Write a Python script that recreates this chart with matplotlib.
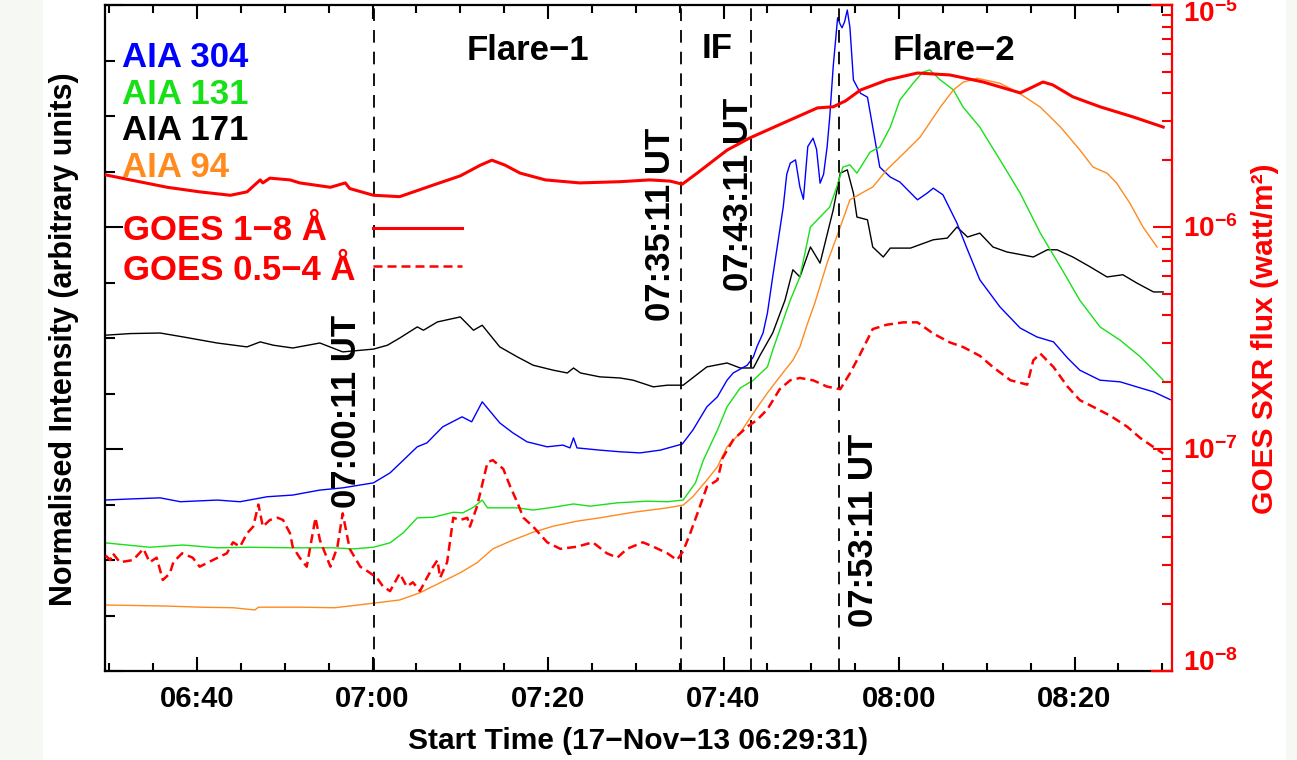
import matplotlib.pyplot as plt
from matplotlib.patches import Rectangle
from matplotlib.ticker import FixedLocator, MultipleLocator, LogLocator, NullFormatter
from matplotlib.transforms import offset_copy

plt.rcParams['font.family'] = ['Liberation Sans', 'DejaVu Sans']
plt.rcParams['font.weight'] = 'bold'
plt.rcParams['mathtext.fontset'] = 'custom'
plt.rcParams['mathtext.rm'] = 'Liberation Sans:bold'
plt.rcParams['mathtext.bf'] = 'Liberation Sans:bold'

# time axis: minutes after 06:00 UT on 17-Nov-2013
t_start, t_end = 29.52, 151.1
tick_minutes = [40, 60, 80, 100, 120, 140]
tick_labels = ['06:40', '07:00', '07:20', '07:40', '08:00', '08:20']

# event markers (minutes after 06:00) and their labels
event_minutes = [60.18, 95.18, 103.18, 113.18]
event_labels = ['07:00:11 UT', '07:35:11 UT', '07:43:11 UT', '07:53:11 UT']

# AIA light curves, normalised and stacked (arbitrary units)
t_171 = [29.5, 32.4, 35.8, 38.4, 42.3, 45.7, 47.2, 48.7, 50.9, 54.0, 56.6, 60.1, 61.7,
         63.1, 65.1, 65.8, 67.4, 70.0, 71.5, 72.5, 74.5, 76.5, 78.3, 80.6, 82.2, 82.9,
         83.7, 85.9, 88.2, 89.7, 92.0, 93.6, 95.4, 98.1, 100.4, 101.9, 103.4, 104.2,
         105.6, 107.0, 107.9, 108.7, 109.9, 111.0, 112.5, 113.3, 114.1, 114.8, 115.2,
         116.4, 117.0, 118.2, 119.0, 121.3, 123.9, 125.5, 126.6, 127.8, 129.2, 130.7,
         132.3, 135.3, 136.9, 138.0, 139.8, 141.8, 143.7, 145.5, 147.1, 149.0, 150.1]
aia_171 = [6.05, 6.08, 6.09, 6.02, 5.91, 5.84, 5.93, 5.87, 5.82, 5.91, 5.75, 5.80, 5.87,
           6.00, 6.20, 6.14, 6.29, 6.38, 6.14, 6.23, 5.84, 5.66, 5.51, 5.42, 5.37, 5.46,
           5.37, 5.30, 5.28, 5.24, 5.12, 5.15, 5.15, 5.48, 5.55, 5.46, 5.46, 5.70,
           6.09, 6.68, 7.23, 7.10, 7.64, 7.35, 8.31, 8.97, 9.03, 8.61, 8.18,
           8.13, 7.64, 7.46, 7.62, 7.62, 7.77, 7.80, 8.00, 7.82, 7.89, 7.64,
           7.55, 7.46, 7.59, 7.59, 7.46, 7.28, 7.10, 7.14, 6.99, 6.83, 6.83]

t_304 = [29.5, 32.4, 35.8, 38.1, 42.3, 44.9, 48.0, 50.9, 54.0, 56.6, 60.1, 62.0, 65.1,
         66.2, 68.0, 70.2, 71.3, 72.5, 74.5, 76.0, 77.6, 79.9, 81.7, 82.5, 82.9, 83.3,
         85.9, 88.2, 90.5, 92.8, 95.3, 96.5, 98.1, 99.3, 100.4, 101.1, 102.7, 103.4,
         103.8, 104.5, 105.0, 105.6, 106.8, 107.2, 107.6, 108.2, 108.7, 109.1, 109.6,
         110.2, 110.6, 111.0, 111.4, 111.8, 112.1, 112.5, 113.0, 113.3, 113.5, 113.8,
         114.1, 114.4, 114.8, 115.6, 116.4, 117.8, 119.0, 120.1,
         122.1, 123.2, 123.9, 125.0, 126.6, 127.8, 129.2, 131.5, 133.8, 135.7, 137.6,
         139.2, 140.6, 142.9, 145.2, 147.5, 149.0, 150.9]
aia_304 = [3.08, 3.10, 3.12, 3.05, 3.08, 3.05, 3.14, 3.17, 3.26, 3.30, 3.39, 3.57, 4.04,
           4.11, 4.40, 4.58, 4.49, 4.85, 4.47, 4.29, 4.13, 4.04, 4.07, 4.02, 4.20, 4.02,
           3.98, 3.95, 3.93, 3.98, 4.09, 4.34, 4.76, 4.94, 5.24, 5.37, 5.51, 5.66,
           5.84, 6.09, 6.45, 7.10, 8.36, 8.95, 9.15, 9.21, 8.72, 8.50, 9.45,
           9.60, 9.40, 8.79, 8.95, 9.44, 9.98, 10.90, 11.77, 11.65, 11.59, 11.70,
           11.91, 11.60, 10.65, 10.41, 10.34, 9.08, 8.90, 8.81,
           8.49, 8.61, 8.70, 8.58, 8.07, 7.59, 7.05, 6.56, 6.18, 6.02, 5.93,
           5.64, 5.42, 5.24, 5.21, 5.10, 5.03, 4.89]

t_131 = [29.5, 34.6, 38.4, 42.3, 46.0, 50.9, 55.5, 57.8, 60.1, 62.0, 63.5, 65.1, 66.9,
         69.2, 70.3, 71.5, 72.5, 73.1, 76.5, 78.3, 80.6, 82.9, 84.8, 87.9, 91.3, 93.6,
         95.4, 96.8, 97.7, 99.3, 100.4, 101.9, 103.4, 105.0, 105.6, 106.8, 107.6,
         108.7, 109.9, 111.0, 112.1, 112.9, 113.6, 114.4, 115.2, 116.7, 117.8, 119.0,
         120.1, 121.6, 122.7, 123.5, 124.7, 126.2, 127.3, 129.2, 131.5, 133.8, 136.1,
         138.4, 140.6, 142.9, 145.2, 147.5, 149.0, 150.1]
aia_131 = [2.31, 2.23, 2.27, 2.22, 2.23, 2.22, 2.22, 2.20, 2.23, 2.31, 2.49, 2.76, 2.77,
           2.86, 2.85, 2.95, 3.08, 2.94, 2.94, 2.90, 2.95, 3.01, 2.97, 3.03, 3.06, 3.05,
           3.08, 3.39, 3.80, 4.34, 4.76, 5.10, 5.24, 5.48, 5.78, 6.32, 6.68,
           7.10, 8.00, 8.18, 8.36, 8.72, 9.08, 9.12, 8.97, 9.35, 9.44, 9.80,
           10.29, 10.59, 10.79, 10.83, 10.65, 10.47, 10.16, 9.80, 9.21, 8.61, 7.89,
           7.28, 6.68, 6.20, 5.96, 5.66, 5.42, 5.24]

t_94 = [29.5, 36.6, 40.3, 44.1, 46.6, 47.0, 51.7, 55.7, 58.4, 60.5, 63.1, 65.4, 67.7,
        70.0, 71.9, 73.7, 75.7, 78.3, 80.6, 83.3, 85.9, 89.7, 93.6, 95.4, 96.5, 98.1,
        99.3, 100.4, 101.9, 103.4, 105.0, 106.4, 107.9, 108.7, 109.5, 110.4, 111.8,
        113.3, 114.4, 116.4, 117.0, 118.6, 120.1, 122.4, 124.7, 126.2, 127.3, 128.9,
        131.5, 133.5, 136.1, 138.4, 140.6, 142.1, 143.7, 144.8, 146.3, 147.8, 149.4]
aia_94 = [1.19, 1.17, 1.15, 1.14, 1.10, 1.15, 1.15, 1.14, 1.19, 1.23, 1.28, 1.41, 1.59,
          1.77, 1.95, 2.20, 2.34, 2.50, 2.61, 2.70, 2.76, 2.86, 2.94, 2.99, 3.14, 3.44,
          3.68, 4.04, 4.29, 4.65, 5.01, 5.30, 5.60, 5.84, 6.23, 6.63, 7.35,
          8.00, 8.49, 8.67, 8.72, 9.03, 9.26, 9.62, 10.16, 10.47, 10.61, 10.68,
          10.59, 10.43, 10.16, 9.80, 9.39, 9.08, 8.97, 8.79, 8.43, 8.00, 7.64]

# GOES X-ray flux, in units of 1e-6 W m^-2
t_goes_long = [29.5, 32.4, 36.6, 40.3, 43.8, 45.7, 47.2, 47.5, 48.3, 50.6, 51.7, 55.2,
               56.9, 57.4, 60.1, 63.1, 66.6, 70.0, 72.3, 73.6, 75.1, 76.8, 79.7, 83.6,
               88.2, 91.6, 93.9, 95.3, 97.0, 100.4, 103.0, 106.8, 110.7, 112.5, 113.9,
               115.6, 118.6, 122.1, 125.8, 129.6, 133.8, 135.0, 136.4, 137.5, 139.8,
               142.9, 146.7, 150.1]
goes_long = [1.72, 1.63, 1.51, 1.44, 1.39, 1.44, 1.63, 1.58, 1.66, 1.63, 1.58, 1.51,
             1.58, 1.49, 1.39, 1.37, 1.53, 1.70, 1.90, 2.00, 1.90, 1.75, 1.63, 1.58,
             1.60, 1.63, 1.61, 1.56, 1.75, 2.22, 2.52, 2.94, 3.44, 3.48, 3.70,
             4.14, 4.59, 4.94, 4.84, 4.50, 4.02, 4.23, 4.50, 4.37, 3.86,
             3.48, 3.13, 2.82]

t_goes_short = [29.6, 30.1, 30.4, 31.2, 32.7, 33.9, 34.6, 35.4, 36.1, 36.9, 37.3, 38.3,
                39.5, 40.3, 41.8, 43.4, 44.1, 44.9, 45.7, 46.4, 47.0, 47.5, 48.3, 49.2,
                49.8, 50.6, 50.9, 51.7, 52.5, 53.5, 54.0, 55.2, 56.0, 56.6, 57.4, 58.6,
                59.4, 60.5, 61.2, 62.0, 63.1, 63.9, 64.6, 65.4, 66.2, 66.9, 67.4, 67.7,
                68.5, 69.2, 70.0, 70.8, 71.1, 71.9, 73.1, 73.7, 74.9, 75.7, 76.5, 77.2,
                78.3, 79.9, 81.4, 83.3, 85.1, 86.7, 87.9, 89.0, 90.8, 92.0, 93.6, 94.7,
                95.4, 96.2, 97.3, 98.1, 99.3, 99.9, 101.1, 102.7, 103.8, 105.0, 106.4,
                107.6, 108.7, 110.2, 111.8, 113.3, 114.4, 115.6, 117.0, 118.6, 120.5,
                122.1, 123.9, 125.8, 127.3, 129.2, 130.7, 132.7, 134.6, 135.3, 136.1,
                137.6, 139.2, 140.6, 142.1, 144.1, 146.0, 147.5, 149.0, 150.1]
goes_short = [0.0331, 0.0316, 0.0339, 0.0309, 0.0316, 0.0355, 0.0309, 0.0324, 0.0257,
              0.0275, 0.0309, 0.0339, 0.0324, 0.0295, 0.0316, 0.0339, 0.0380, 0.0363,
              0.0417, 0.0447, 0.0562, 0.0447, 0.0479, 0.0490, 0.0479, 0.0417, 0.0363,
              0.0324, 0.0295, 0.0490, 0.0389, 0.0295, 0.0363, 0.0513, 0.0355, 0.0295,
              0.0282, 0.0263, 0.0240, 0.0229, 0.0275, 0.0240, 0.0251, 0.0229, 0.0263,
              0.0295, 0.0316, 0.0263, 0.0309, 0.0490, 0.0479, 0.0490, 0.0447, 0.0550,
              0.0871, 0.0891, 0.0813, 0.0676, 0.0575, 0.0490, 0.0447, 0.0380, 0.0355,
              0.0363, 0.0380, 0.0339, 0.0324, 0.0355, 0.0380, 0.0363, 0.0339, 0.0316,
              0.0347, 0.0417, 0.0550, 0.0676, 0.0724, 0.0912, 0.110, 0.126, 0.135,
              0.151, 0.186, 0.204, 0.209, 0.204, 0.191, 0.186, 0.219, 0.269, 0.347,
              0.363, 0.372, 0.372, 0.331, 0.302, 0.288, 0.263, 0.234, 0.204, 0.195,
              0.251, 0.269, 0.234, 0.191, 0.166, 0.155, 0.141, 0.126, 0.112, 0.102,
              0.0955]

flux_ticks = [1e-8, 1e-7, 1e-6, 1e-5]
flux_tick_labels = [r'$\mathbf{10^{-8}}$', r'$\mathbf{10^{-7}}$',
                    r'$\mathbf{10^{-6}}$', r'$\mathbf{10^{-5}}$']

RED = '#ff0000'
BLUE = '#0000ff'
GREEN = '#18e018'
ORANGE = '#ff8a1e'

fig = plt.figure(figsize=(12.97, 7.60), dpi=100)
fig.patch.set_facecolor('#f6f8f4')
fig.add_artist(Rectangle((43 / 1297, 0), (1286 - 43) / 1297, 1, transform=fig.transFigure,
                         facecolor='white', edgecolor='none', zorder=-1))

ax = fig.add_axes([0.0810, 0.1171, 0.8226, 0.8763])
ax.set_xlim(t_start, t_end)
ax.set_ylim(0, 12)

ax.plot(t_171, aia_171, color='black', lw=1.0)
ax.plot(t_304, aia_304, color=BLUE, lw=1.0)
ax.plot(t_131, aia_131, color=GREEN, lw=1.0)
ax.plot(t_94, aia_94, color=ORANGE, lw=1.0)

for tm in event_minutes:
    ax.axvline(tm, color='black', lw=1.3, linestyle=(0, (7, 5)))

# x axis
ax.xaxis.set_major_locator(FixedLocator(tick_minutes))
ax.xaxis.set_minor_locator(MultipleLocator(5))
ax.set_xticklabels(tick_labels, fontsize=21, fontweight='bold')
ax.tick_params(axis='x', which='both', direction='in', top=True, bottom=True,
               width=1.5, pad=10)
ax.tick_params(axis='x', which='major', length=10)
ax.tick_params(axis='x', which='minor', length=5.5)

# left axis: unlabelled normalised intensity
ax.yaxis.set_major_locator(MultipleLocator(4))
ax.yaxis.set_minor_locator(MultipleLocator(1))
ax.tick_params(axis='y', which='both', direction='in', left=True, right=False,
               labelleft=False, width=1.5)
ax.tick_params(axis='y', which='major', length=13)
ax.tick_params(axis='y', which='minor', length=7)
for side in ['left', 'top', 'bottom']:
    ax.spines[side].set_linewidth(1.6)
ax.spines['right'].set_visible(False)

# right axis: GOES flux on log scale
ax2 = ax.twinx()
ax2.set_yscale('log')
ax2.set_ylim(1e-8, 1e-5)
long_line, = ax2.plot(t_goes_long, [v * 1e-6 for v in goes_long], color=RED, lw=2.2)
short_line, = ax2.plot(t_goes_short, [v * 1e-6 for v in goes_short], color=RED, lw=1.8,
                       linestyle=(0, (3.6, 2.0)))
ax2.yaxis.set_major_locator(FixedLocator(flux_ticks))
ax2.yaxis.set_minor_locator(LogLocator(base=10, subs=range(2, 10)))
ax2.yaxis.set_major_formatter(NullFormatter())
ax2.yaxis.set_minor_formatter(NullFormatter())
ax2.tick_params(axis='y', which='both', direction='in', colors=RED, width=1.5)
ax2.tick_params(axis='y', which='major', length=14)
ax2.tick_params(axis='y', which='minor', length=7)
for side in ['left', 'top', 'bottom']:
    ax2.spines[side].set_visible(False)
ax2.spines['right'].set_color(RED)
ax2.spines['right'].set_linewidth(1.6)

# red ends of the top and bottom frame next to the flux axis
ax.axhline(12, xmin=0.981, xmax=1, color=RED, lw=1.6, clip_on=False, zorder=5)
ax.axhline(0, xmin=0.981, xmax=1, color=RED, lw=1.6, clip_on=False, zorder=5)

label_shift = [0, -7.2, -7.2, -12.2]
for val, lab, dy in zip(flux_ticks, flux_tick_labels, label_shift):
    tr = offset_copy(ax2.get_yaxis_transform(), fig=fig, y=dy, units='points')
    ax2.text(1.0103, val, lab, transform=tr, ha='left', va='baseline',
             color=RED, fontsize=20, clip_on=False)

# phase labels
ax.text(77.7, 11.01, 'Flare\u22121', ha='center', va='baseline', fontsize=25)
ax.text(99.3, 11.05, 'IF', ha='center', va='baseline', fontsize=25)
ax.text(126.2, 11.01, 'Flare\u22122', ha='center', va='baseline', fontsize=25)

event_label_pos = [(57.0, 4.67), (92.8, 8.05), (101.7, 8.58), (116.0, 2.54)]
for lab, (tx, ty) in zip(event_labels, event_label_pos):
    ax.text(tx, ty, lab, rotation=90, ha='center', va='center', fontsize=25)

# channel labels
aia_names = ['AIA 304', 'AIA 131', 'AIA 171', 'AIA 94']
aia_colors = [BLUE, GREEN, 'black', ORANGE]
aia_label_y = [0.9069, 0.8518, 0.7968, 0.7417]
for name, col, yy in zip(aia_names, aia_colors, aia_label_y):
    ax.text(0.0159, yy, name, color=col, transform=ax.transAxes, ha='left',
            va='baseline', fontsize=25)

# GOES channel names with their line keys to the right
goes_names = ['GOES 1\u22128 \u00c5', 'GOES 0.5\u22124 \u00c5']
goes_label_y = [0.6471, 0.5871]
for name, yy in zip(goes_names, goes_label_y):
    ax.text(0.0169, yy, name, color=RED, transform=ax.transAxes, ha='left',
            va='baseline', fontsize=25)
ax2.legend([long_line, short_line], ['', ''], loc='center left',
           bbox_to_anchor=(0.2512, 0.632), frameon=False, fontsize=24,
           handlelength=2.67, handletextpad=0, borderpad=0, borderaxespad=0,
           labelspacing=0.2)

# axis titles
fig.text(0.0493, 0.554, 'Normalised Intensity (arbitrary units)', rotation=90,
         ha='center', va='center', fontsize=22, fontweight='bold')
fig.text(0.9753, 0.554, 'GOES SXR flux (watt/m\u00b2)', rotation=90, color=RED,
         ha='center', va='center', fontsize=21.5, fontweight='bold')
fig.text(0.4919, 0.025, 'Start Time (17\u2212Nov\u221213 06:29:31)', ha='center',
         va='center', fontsize=21.5, fontweight='bold')

fig.savefig('out.png', dpi=100)
